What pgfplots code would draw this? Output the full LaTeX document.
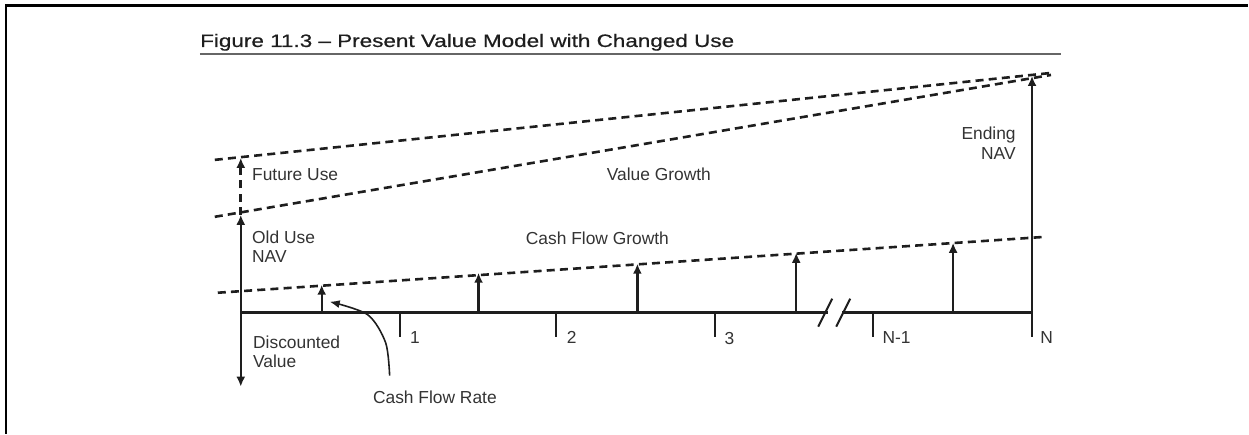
\documentclass[border=0pt]{standalone}
\usepackage{fontspec}
\setmainfont{Liberation Sans}
\newfontfamily\titlefont{Liberation Sans}[FakeStretch=1.25, FakeBold=0.6]
\usepackage{pgfplots}
\pgfplotsset{compat=1.18}
\usetikzlibrary{arrows.meta}
\definecolor{ink}{HTML}{1E1E1E}
\definecolor{txt}{HTML}{333333}
\tikzset{
  lab/.style={font=\fontsize{8.7}{10}\selectfont, text=txt, inner sep=0pt},
  arr/.style={line width=1.15pt, -{Latex[length=5pt,width=4.5pt]}},
  dsh/.style={line width=1.3pt, dash pattern=on 4pt off 2.6pt},
}
\begin{document}
\begin{tikzpicture}
\begin{axis}[
  scale only axis, width=624.5pt, height=217pt,
  xmin=0, xmax=1249, ymin=0, ymax=434, y dir=reverse,
  axis lines=none, clip=false,
  every axis plot/.append style={ink},
]
% frame
\path (0,0) (1249,434);
\addplot[line width=1.2pt, black] coordinates {(6,434) (6,5.5) (1249,5.5)};
% title and rule
\node[anchor=base west, font=\titlefont\fontsize{9}{10}\selectfont, text=ink, inner sep=0pt] at (200,47) {Figure 11.3 – Present Value Model with Changed Use};
\addplot[line width=1.1pt, gray!80!black] coordinates {(200,54) (1062,54)};
% time axis with break
\addplot[line width=1.5pt] coordinates {(241,313) (829,313)};
\addplot[line width=1.5pt] coordinates {(843,313) (1033,313)};
\addplot[line width=1pt] coordinates {(819,327) (833,299)};
\addplot[line width=1pt] coordinates {(837,327) (851,299)};
% ticks
\addplot[line width=1pt] coordinates {(400,313) (400,337)};
\addplot[line width=1pt] coordinates {(557,313) (557,337)};
\addplot[line width=1pt] coordinates {(716,313) (716,337)};
\addplot[line width=1pt] coordinates {(874,313) (874,337)};
\addplot[line width=1pt] coordinates {(1033,313) (1033,337)};
% cash flow arrows
\addplot[arr] coordinates {(322,313) (322,285)};
\addplot[arr] coordinates {(479,313) (479,273)};
\addplot[arr] coordinates {(638,313) (638,264)};
\addplot[arr] coordinates {(797,313) (797,253)};
\addplot[arr] coordinates {(954,313) (954,243)};
% left verticals
\addplot[arr] coordinates {(241,313) (241,215)};
\addplot[arr, dsh] coordinates {(241,215) (241,158)};
\addplot[arr] coordinates {(241,313) (241,387)};
% ending NAV
\addplot[arr] coordinates {(1033,313) (1033,76)};
% dashed growth lines
\addplot[dsh] coordinates {(215,160) (1052,73)};
\addplot[dsh] coordinates {(215,217) (1052,75)};
\addplot[dsh] coordinates {(218,293) (1047,237)};
% cash flow rate pointer
\addplot[smooth, line width=0.8pt, -{Latex[length=5pt,width=4pt]}] coordinates {(390,376) (386,343) (368,315) (330,302)};
% labels
\node[lab, anchor=west] at (252,175) {Future Use};
\node[lab, anchor=west] at (252,238) {Old Use};
\node[lab, anchor=west] at (252,257) {NAV};
\node[lab, anchor=west] at (607,174) {Value Growth};
\node[lab, anchor=west] at (526,239) {Cash Flow Growth};
\node[lab, anchor=east] at (1017,135) {Ending};
\node[lab, anchor=east] at (1017,154) {NAV};
\node[lab, anchor=west] at (253,343) {Discounted};
\node[lab, anchor=west] at (253,362) {Value};
\node[lab, anchor=west] at (373,398) {Cash Flow Rate};
\node[lab, anchor=west] at (410,338) {1};
\node[lab, anchor=west] at (567,338) {2};
\node[lab, anchor=west] at (725,339) {3};
\node[lab, anchor=west] at (883,338) {N-1};
\node[lab, anchor=west] at (1041,338) {N};
\end{axis}
\end{tikzpicture}
\end{document}
